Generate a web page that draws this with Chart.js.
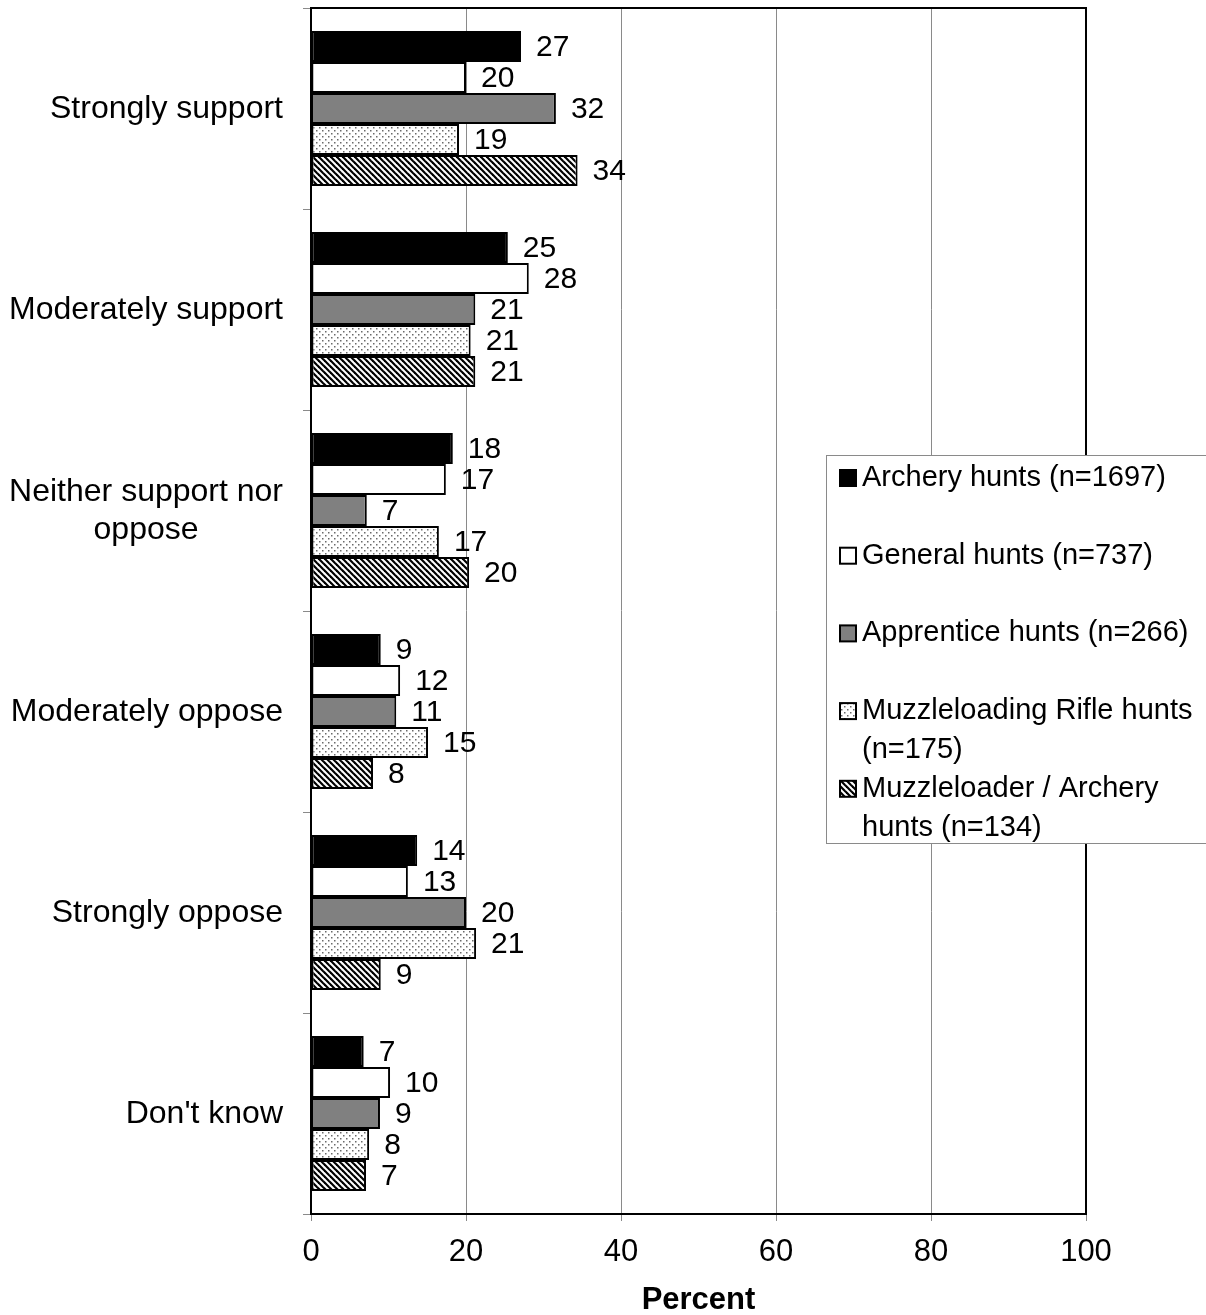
<!DOCTYPE html>
<html>
<head>
<meta charset="utf-8">
<script src="https://cdn.jsdelivr.net/npm/chart.js@4/dist/chart.umd.min.js"></script>
<style>
  html, body { margin: 0; padding: 0; background: #fff; }
  #wrap { width: 1206px; height: 1315px; }
</style>
</head>
<body>
<div id="wrap"><canvas id="chart"></canvas></div>
<script>
// categories, top to bottom
var categories = [
  'Strongly support',
  'Moderately support',
  ['Neither support nor', 'oppose'],
  'Moderately oppose',
  'Strongly oppose',
  "Don't know"
];

var seriesNames = [
  'Archery hunts (n=1697)',
  'General hunts (n=737)',
  'Apprentice hunts (n=266)',
  'Muzzleloading Rifle hunts (n=175)',
  'Muzzleloader / Archery hunts (n=134)'
];

// percent
var archery      = [27.1, 25.4, 18.3, 9.0, 13.7, 6.8];
var general      = [20.0, 28.1, 17.4, 11.5, 12.5, 10.2];
var apprentice   = [31.6, 21.2, 7.2, 11.0, 20.0, 8.9];
var muzzleRifle  = [19.1, 20.6, 16.5, 15.1, 21.3, 7.5];
var muzzleArch   = [34.4, 21.2, 20.4, 8.0, 9.0, 7.1];

var xTicks = [0, 20, 40, 60, 80, 100];

var FONT = '"Liberation Sans", Arial, sans-serif';

function dotPattern() {
  var c = document.createElement('canvas');
  c.width = 6; c.height = 6;
  var g = c.getContext('2d');
  g.fillStyle = '#fff';
  g.fillRect(0, 0, 6, 6);
  g.fillStyle = '#6a6a6a';
  g.fillRect(1, 1, 1.5, 1.5);
  g.fillRect(4, 4, 1.5, 1.5);
  return g.createPattern(c, 'repeat');
}

function hatchPattern() {
  var c = document.createElement('canvas');
  c.width = 6; c.height = 6;
  var g = c.getContext('2d');
  g.fillStyle = '#fff';
  g.fillRect(0, 0, 6, 6);
  g.strokeStyle = '#000';
  g.lineWidth = 2.2;
  [-6, 0, 6].forEach(function(k) {
    g.beginPath();
    g.moveTo(k - 1, -1);
    g.lineTo(k + 7, 7);
    g.stroke();
  });
  return g.createPattern(c, 'repeat');
}

var fills = ['#000', '#fff', '#808080', dotPattern(), hatchPattern()];
var values = [archery, general, apprentice, muzzleRifle, muzzleArch];

var datasets = values.map(function(v, i) {
  return {
    label: seriesNames[i],
    data: v,
    backgroundColor: fills[i],
    borderColor: '#000',
    borderWidth: 2,
    borderSkipped: false,
    categoryPercentage: 0.771,
    barPercentage: 1.0
  };
});

var valueLabels = {
  id: 'valueLabels',
  afterDatasetsDraw: function(chart) {
    var ctx = chart.ctx;
    ctx.save();
    ctx.font = '30px ' + FONT;
    ctx.fillStyle = '#000';
    ctx.textAlign = 'left';
    ctx.textBaseline = 'middle';
    chart.data.datasets.forEach(function(ds, i) {
      chart.getDatasetMeta(i).data.forEach(function(bar, j) {
        ctx.fillText(String(Math.round(ds.data[j])), bar.x + 15, bar.y + 1);
      });
    });
    // top and right frame of the plot
    var a = chart.chartArea;
    ctx.strokeStyle = '#000';
    ctx.lineWidth = 2;
    ctx.beginPath();
    ctx.moveTo(a.left, a.top);
    ctx.lineTo(a.right, a.top);
    ctx.lineTo(a.right, a.bottom);
    ctx.stroke();
    ctx.restore();
  }
};

var catLabels = {
  id: 'catLabels',
  afterDraw: function(chart) {
    var ctx = chart.ctx;
    var y = chart.scales.y;
    ctx.save();
    ctx.font = '32px ' + FONT;
    ctx.fillStyle = '#000';
    ctx.textAlign = 'center';
    ctx.textBaseline = 'middle';
    var right = chart.chartArea.left - 28;
    var lh = 38;
    categories.forEach(function(c, i) {
      var lines = Array.isArray(c) ? c : [c];
      var w = 0;
      lines.forEach(function(l) { w = Math.max(w, ctx.measureText(l).width); });
      var cy = y.getPixelForValue(i) + 1 - (lines.length - 1) * lh / 2;
      lines.forEach(function(l, k) {
        ctx.fillText(l, right - w / 2, cy + k * lh);
      });
    });
    ctx.restore();
  }
};

function wrapText(ctx, text, maxW) {
  var words = text.split(' ');
  var lines = [];
  var cur = '';
  words.forEach(function(w) {
    var t = cur ? cur + ' ' + w : w;
    if (cur && ctx.measureText(t).width > maxW) {
      lines.push(cur);
      cur = w;
    } else {
      cur = t;
    }
  });
  if (cur) lines.push(cur);
  return lines;
}

var boxLegend = {
  id: 'boxLegend',
  afterDraw: function(chart) {
    var ctx = chart.ctx;
    var a = chart.chartArea;
    var bx = a.right - 260, by = 455, bw = 400, bh = 388;
    ctx.save();
    ctx.fillStyle = '#fff';
    ctx.fillRect(bx, by, bw, bh);
    ctx.strokeStyle = '#8a8a8a';
    ctx.lineWidth = 1;
    ctx.strokeRect(bx + 0.5, by + 0.5, bw, bh);
    ctx.font = '29px ' + FONT;
    ctx.textAlign = 'left';
    ctx.textBaseline = 'middle';
    chart.data.datasets.forEach(function(ds, i) {
      var cy = by + 23 + i * 77.7;
      ctx.fillStyle = ds.backgroundColor;
      ctx.fillRect(bx + 14, cy - 8, 16, 16);
      ctx.strokeStyle = '#000';
      ctx.lineWidth = 2;
      ctx.strokeRect(bx + 14, cy - 8, 16, 16);
      ctx.fillStyle = '#000';
      wrapText(ctx, ds.label, 335).forEach(function(l, k) {
        ctx.fillText(l, bx + 36, cy + k * 39);
      });
    });
    ctx.restore();
  }
};

new Chart(document.getElementById('chart'), {
  type: 'bar',
  data: { labels: categories, datasets: datasets },
  plugins: [valueLabels, catLabels, boxLegend],
  options: {
    indexAxis: 'y',
    responsive: true,
    maintainAspectRatio: false,
    animation: false,
    layout: { padding: { top: 8, right: 120, left: 0, bottom: 0 } },
    plugins: {
      legend: { display: false },
      tooltip: { enabled: false }
    },
    scales: {
      y: {
        type: 'category',
        afterFit: function(s) { s.width = 311; },
        ticks: { display: false },
        grid: {
          offset: true,
          drawOnChartArea: false,
          tickLength: 8,
          color: '#8a8a8a'
        },
        border: { color: '#000', width: 2 }
      },
      x: {
        min: 0,
        max: 100,
        afterBuildTicks: function(s) {
          s.ticks = xTicks.map(function(v) { return { value: v }; });
        },
        afterFit: function(s) { s.height = 101; },
        ticks: {
          color: '#000',
          font: { family: FONT, size: 31 },
          padding: 13
        },
        grid: {
          color: '#8a8a8a',
          lineWidth: 1,
          tickLength: 7
        },
        border: { color: '#000', width: 2 },
        title: {
          display: true,
          text: 'Percent',
          color: '#000',
          font: { family: FONT, size: 31, weight: 'bold' },
          padding: { top: 0, bottom: -4 }
        }
      }
    }
  }
});
</script>
</body>
</html>
